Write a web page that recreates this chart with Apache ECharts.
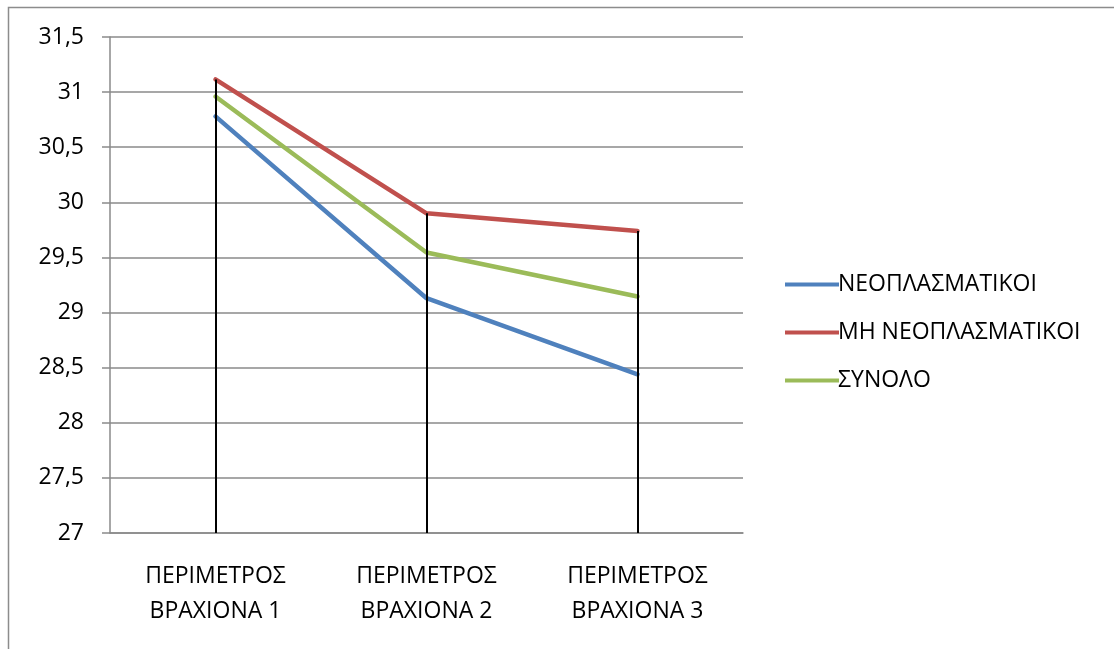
<!DOCTYPE html>
<html>
<head>
<meta charset="utf-8">
<script src="https://cdn.jsdelivr.net/npm/echarts@6/dist/echarts.min.js"></script>
<style>
  html, body { margin: 0; padding: 0; background: #fff; }
  #chart { width: 1114px; height: 649px; }
</style>
</head>
<body>
<div id="chart"></div>
<script>
// Arm circumference measurements, three readings per group
const categories = ['ΠΕΡΙΜΕΤΡΟΣ\nΒΡΑΧΙΟΝΑ 1', 'ΠΕΡΙΜΕΤΡΟΣ\nΒΡΑΧΙΟΝΑ 2', 'ΠΕΡΙΜΕΤΡΟΣ\nΒΡΑΧΙΟΝΑ 3'];
const seriesNames = ['ΝΕΟΠΛΑΣΜΑΤΙΚΟΙ', 'ΜΗ ΝΕΟΠΛΑΣΜΑΤΙΚΟΙ', 'ΣΥΝΟΛΟ'];
const neoplastic = [30.78, 29.13, 28.44];
const nonNeoplastic = [31.115, 29.90, 29.74];
const total = [30.96, 29.545, 29.145];
const yMin = 27, yMax = 31.5, yStep = 0.5;

const colors = ['#4F81BD', '#C0504D', '#9BBB59'];
const allSeries = [neoplastic, nonNeoplastic, total];
const font = '"Open Sans", Lato, sans-serif';
const fontSize = 23;

// drop lines from the highest value at each category down to the axis
const dropLines = categories.map((c, i) => {
  const top = Math.max(...allSeries.map(s => s[i]));
  return [{ coord: [i, top] }, { coord: [i, yMin] }];
});

const chart = echarts.init(document.getElementById('chart'), null, { renderer: 'canvas' });
chart.setOption({
  animation: false,
  backgroundColor: '#fff',
  graphic: [{
    type: 'polyline',
    shape: { points: [[8.5, 660], [8.5, 7.5], [1120, 7.5]] },
    style: { stroke: '#8c8c8c', lineWidth: 1.5, fill: null },
    silent: true
  }],
  grid: { left: 110, top: 37, width: 633, height: 496, containLabel: false },
  legend: {
    orient: 'vertical',
    left: 780,
    top: 268,
    itemGap: 25,
    itemWidth: 54,
    itemHeight: 4,
    icon: 'rect',
    data: seriesNames.map((n, i) => ({ name: n, itemStyle: { color: colors[i] } })),
    textStyle: { fontFamily: font, fontSize: fontSize, color: '#000', padding: [0, 0, 0, -6] }
  },
  xAxis: {
    type: 'category',
    data: categories,
    boundaryGap: true,
    axisLine: { lineStyle: { color: '#8a8a8a', width: 1.5 } },
    axisTick: { show: false },
    axisLabel: { fontFamily: font, fontSize: fontSize, color: '#000', lineHeight: 35, margin: 26, interval: 0 },
    splitLine: { show: false }
  },
  yAxis: {
    type: 'value',
    min: yMin, max: yMax, interval: yStep,
    axisLine: { show: true, lineStyle: { color: '#8a8a8a', width: 1.5 } },
    axisTick: { show: true, length: 8, lineStyle: { color: '#8a8a8a', width: 1.5 } },
    axisLabel: {
      fontFamily: font, fontSize: fontSize, color: '#000', margin: 26,
      formatter: v => String(v).replace('.', ',')
    },
    splitLine: { lineStyle: { color: '#8a8a8a', width: 1.5 } }
  },
  series: [
    {
      name: 'drops', type: 'line', data: [], silent: true,
      markLine: {
        silent: true, symbol: 'none', label: { show: false },
        lineStyle: { color: '#000', width: 2, type: 'solid' },
        data: dropLines
      }
    },
    ...seriesNames.map((n, i) => ({
      name: n,
      type: 'line',
      data: allSeries[i],
      symbol: 'none',
      lineStyle: { color: colors[i], width: 4.5, cap: 'round', join: 'round' },
      itemStyle: { color: colors[i] },
      z: 3
    }))
  ]
});
</script>
</body>
</html>
